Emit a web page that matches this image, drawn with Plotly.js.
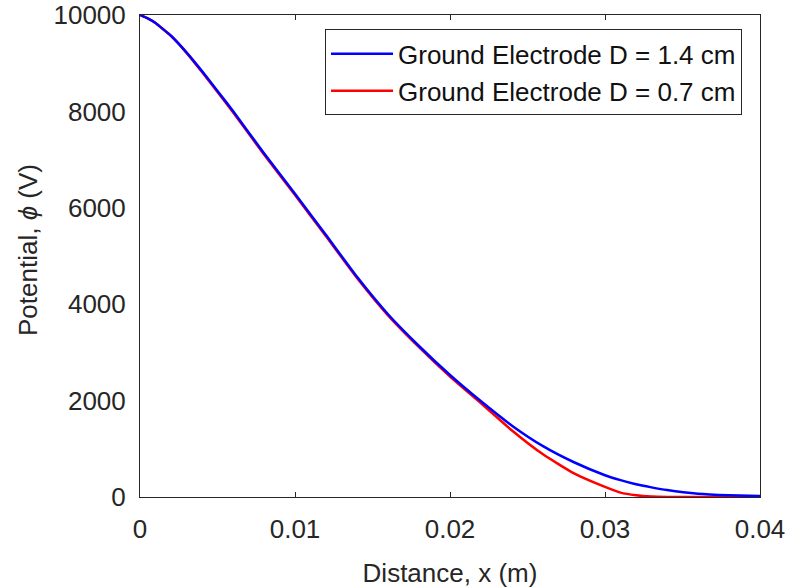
<!DOCTYPE html>
<html>
<head>
<meta charset="utf-8">
<script src="https://cdn.plot.ly/plotly-3.0.1.min.js"></script>
<style>html,body{margin:0;padding:0;background:#fff;}#plot{width:792px;height:588px;}</style>
</head>
<body>
<div id="plot"></div>
<script>
// Distance (m)
const distance = [0, 0.0005, 0.001, 0.0015, 0.002, 0.003, 0.004, 0.005, 0.006, 0.008, 0.010, 0.012, 0.014, 0.016, 0.018, 0.020, 0.022, 0.024, 0.026, 0.028, 0.030, 0.031, 0.032, 0.033, 0.034, 0.036, 0.038, 0.040];
// Ground Electrode D = 1.4 cm (V)
const potential14 = [10000, 9930, 9835, 9705, 9570, 9225, 8835, 8425, 8009, 7130, 6290, 5434, 4568, 3792, 3133, 2530, 1985, 1480, 1055, 721, 452, 350, 264, 200, 144, 67, 35, 20];
// Ground Electrode D = 0.7 cm (V)
const potential07 = [10000, 9930, 9833, 9702, 9565, 9215, 8818, 8405, 7985, 7105, 6265, 5410, 4545, 3770, 3110, 2500, 1945, 1380, 885, 490, 209, 90, 35, 10, 2, 0, 0, 0];

const xTicks = [0, 0.01, 0.02, 0.03, 0.04];
const yTicks = [0, 2000, 4000, 6000, 8000, 10000];
const yTitle = "Potential, <i>ϕ</i> (V)";
const xTitle = "Distance, x (m)";

const font = "Liberation Sans, Arial, sans-serif";
const ink = "#262626";

const traces = [
  {x: distance, y: potential07, mode: "lines", name: "Ground Electrode D = 0.7 cm",
   line: {color: "#ff0000", width: 2.5, shape: "spline", smoothing: 0.5}},
  {x: distance, y: potential14, mode: "lines", name: "Ground Electrode D = 1.4 cm",
   line: {color: "#0000ff", width: 2.5, shape: "spline", smoothing: 0.5}}
];

const layout = {
  width: 792, height: 588,
  margin: {l: 140, r: 32, t: 15, b: 91},
  paper_bgcolor: "#ffffff", plot_bgcolor: "#ffffff",
  font: {family: font, size: 26, color: ink},
  showlegend: true,
  legend: {x: 0.971, y: 0.97, xanchor: "right", yanchor: "top",
           bgcolor: "#ffffff", bordercolor: ink, borderwidth: 1, itemwidth: 62,
           traceorder: "reversed", font: {family: font, size: 26, color: "#111111"}},
  xaxis: {range: [0, 0.04], tickvals: xTicks, ticktext: xTicks.map(String),
          showgrid: false, zeroline: false, showline: true, mirror: "ticks",
          linecolor: ink, linewidth: 1, ticks: "inside", ticklen: 5, tickcolor: ink,
          ticklabelstandoff: 9,
          tickfont: {family: font, size: 26, color: ink},
          title: {text: xTitle, font: {family: font, size: 26, color: ink}, standoff: 20}},
  yaxis: {range: [0, 10000], tickvals: yTicks, ticktext: yTicks.map(String),
          showgrid: false, zeroline: false, showline: true, mirror: true,
          linecolor: ink, linewidth: 1, ticks: "outside", ticklen: 8, tickcolor: "rgba(0,0,0,0)",
          tickfont: {family: font, size: 26, color: ink}},
  yaxis2: {range: [0, 10000], overlaying: "y", anchor: "x", side: "left",
           tickvals: yTicks, showticklabels: false,
           showgrid: false, zeroline: false, showline: false, mirror: "ticks",
           ticks: "inside", ticklen: 5, tickcolor: ink},
  annotations: [
    {text: yTitle, xref: "paper", yref: "paper", x: -0.181, y: 0.512,
     xanchor: "center", yanchor: "middle", textangle: -90, showarrow: false,
     font: {family: font, size: 26, color: ink}}
  ]
};

Plotly.newPlot("plot", traces, layout, {displayModeBar: false, staticPlot: true});
</script>
</body>
</html>
